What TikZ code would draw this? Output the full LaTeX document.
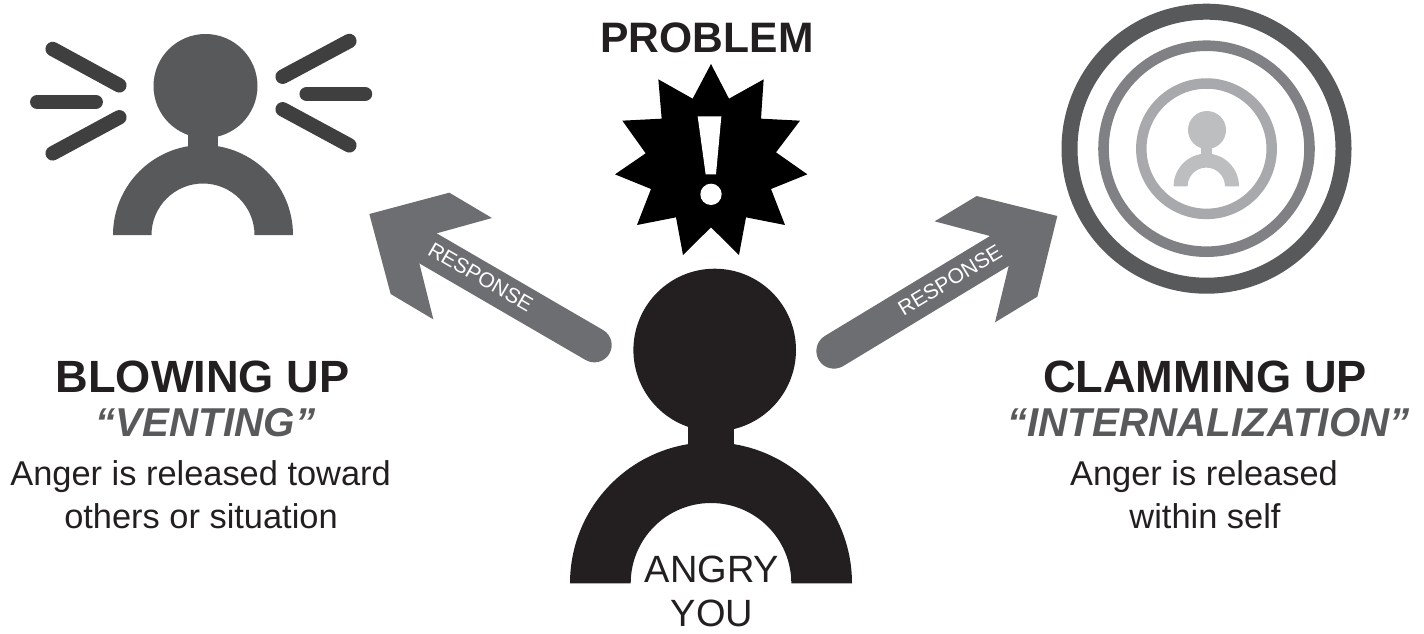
\documentclass[tikz,border=0pt]{standalone}
\usepackage{fontspec}
\setmainfont{Liberation Sans}
\definecolor{cBlack}{HTML}{231F20}
\definecolor{cDark}{HTML}{58595B}
\definecolor{cBar}{HTML}{3F3F40}
\definecolor{cArrow}{HTML}{6D6E71}
\definecolor{cMid}{HTML}{808184}
\definecolor{cLight}{HTML}{A7A9AC}
\definecolor{cPale}{HTML}{BCBEC0}
\newcommand{\fsz}[1]{\fontsize{#1}{#1}\selectfont}
% colour, head x, head y, head r, neck half width, body x, body base y, R, r
\newcommand{\mansil}[9]{%
  \fill[#1] (#2,#3) circle[radius=#4];
  \fill[#1] (#6-#5,#3) rectangle (#6+#5,#7-#8+#8*0.12);
  \begin{scope}[shift={(#6,#7)},x=1pt,y=1pt]
    \fill[#1] (-#8,0) arc[start angle=180,end angle=0,radius=#8] -- (#9,0)
      arc[start angle=0,end angle=180,radius=#9] -- cycle;
  \end{scope}}
\tikzset{
  barline/.style={cBar,line width=14.5pt,line cap=round},
  ring/.style={draw,fill=none},
  shaft/.style={cArrow,line cap=round},
  head/.style={fill=cArrow},
  title/.style={anchor=base,font=\bfseries\fsz{42.6},text=cBlack,inner sep=0pt},
  bigtitle/.style={anchor=base,font=\bfseries\fsz{45.2},text=cBlack,inner sep=0pt},
  subtitle/.style={anchor=base,font=\bfseries\itshape\fsz{40.3},text=cDark,inner sep=0pt},
  body/.style={anchor=base,font=\fsz{34.4},text=cBlack,inner sep=0pt},
  angry/.style={anchor=base,font=\fsz{38},text=cBlack,inner sep=0pt},
  resp/.style={font=\fsz{21},text=white,inner sep=0pt},
}
\begin{document}
\begin{tikzpicture}[x=1pt,y=-1pt]
\useasboundingbox (0,0) rectangle (1424,633);

% left person
\mansil{cDark}{205.5}{86}{52}{15}{203}{235}{90}{51.5}
\draw[barline] (52.7,49) -- (119.3,85.3);
\draw[barline] (37.3,102) -- (95.7,102);
\draw[barline] (52.7,153.3) -- (119.3,117.3);
\draw[barline] (282.7,76.7) -- (349.3,41);
\draw[barline] (306.7,94) -- (365,94);
\draw[barline] (282.7,109.3) -- (349.3,145.3);

% starburst
\begin{scope}[xshift=590pt,x=0.33333pt,y=-0.33333pt]
\fill[black] (363,192)--(417,296)--(521,238)--(513,356)--(630,362)--(558,457)--(652,523)--(543,567)--(585,675)--(468,652)--(447,765)--(363,682)--(279,765)--(258,652)--(141,675)--(183,567)--(75,523)--(167,460)--(97,362)--(215,356)--(205,238)--(308,296)--cycle;
\fill[white] (323,349)--(394,349)--(378,523)--(347,523)--cycle;
\fill[white] (363,583) circle[radius=32];
\end{scope}
\node[title] (problem) at (707,52.2) {PROBLEM};

% target
\draw[ring,cDark,line width=16pt] (1206.5,148.7) circle[radius=137];
\draw[ring,cMid,line width=10.6pt] (1206.5,148.7) circle[radius=103];
\draw[ring,cLight,line width=10.5pt] (1206.5,148.7) circle[radius=65.2];
\mansil{cPale}{1207}{130}{19}{5.5}{1206.3}{186.3}{32.7}{18.7}

% arrows
\begin{scope}[xshift=360pt,yshift=-190pt,x=0.33333pt,y=-0.33333pt]
\coordinate (ls) at (204,175);
\coordinate (le) at (703,465);
\fill[head] (28,72)--(268,8)--(396,84)--(230,130)--(178,220)--(220,388)--(92,312)--cycle;
\draw[shaft,line width=34.7pt] (ls) -- (le);
\end{scope}
\begin{scope}[xshift=810pt,yshift=-180pt,x=0.33333pt,y=-0.33333pt]
\coordinate (rs) at (568,213);
\coordinate (re) at (72,513);
\fill[head] (742,108)--(682,350)--(555,427)--(596,258)--(540,168)--(374,124)--(500,48)--cycle;
\draw[shaft,line width=35.3pt] (rs) -- (re);
\end{scope}
\node[resp,rotate=-30] (respL) at (480.7,277) {RESPONSE};
\node[resp,rotate=31] (respR) at (950,280) {RESPONSE};

% centre person
\mansil{cBlack}{714.7}{350}{81.3}{23.3}{711}{583.3}{141}{80.3}
\node[angry] (angryA) at (712,582.7) {ANGRY};
\node[angry] (angryB) at (712,626) {YOU};

% left text
\node[bigtitle] (blow) at (202.5,392.7) {BLOWING UP};
\node[subtitle] (vent) at (205.5,436) {“VENTING”};
\node[body] (l1) at (200.6,485.3) {Anger is released toward};
\node[body] (l2) at (201,528.7) {others or situation};

% right text
\node[bigtitle] (clam) at (1205,392.7) {CLAMMING UP};
\node[subtitle] (intl) at (1208.5,436) {“INTERNALIZATION”};
\node[body] (r1) at (1204,485.3) {Anger is released};
\node[body] (r2) at (1205,528.7) {within self};
\end{tikzpicture}
\end{document}
